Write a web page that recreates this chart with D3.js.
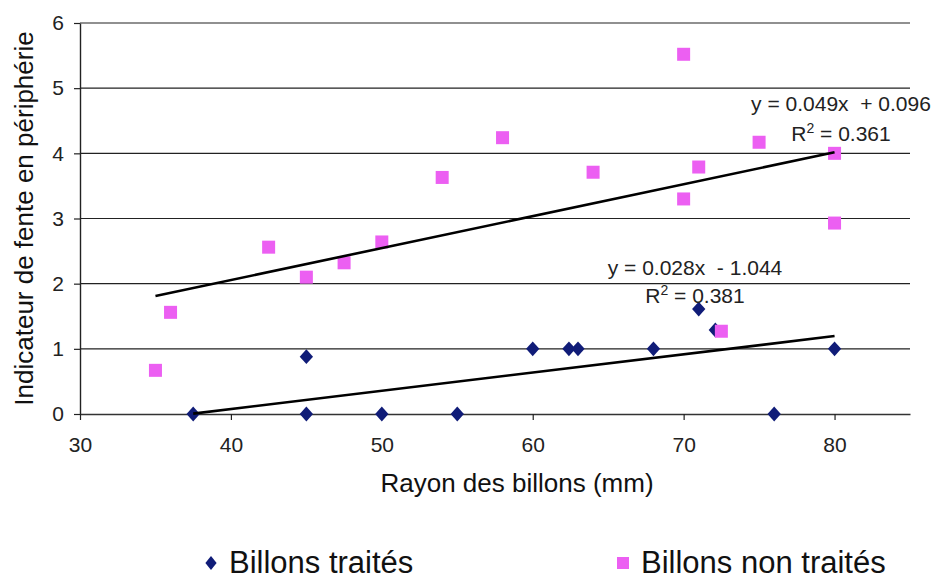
<!DOCTYPE html>
<html>
<head>
<meta charset="utf-8">
<script src="https://cdn.jsdelivr.net/npm/d3@7"></script>
<style>
  body { margin: 0; background: #fff; }
  svg { display: block; font-family: "Liberation Sans", Arial, sans-serif; }
  .pre { white-space: pre; }
</style>
</head>
<body>
<svg id="chart" width="933" height="579"></svg>
<script>
// Billons traités (treated logs)
const treatedX = [37.5, 45, 45, 50, 55, 60, 62.4, 63, 68, 71, 72.1, 76, 80];
const treatedY = [0, 0.88, 0, 0, 0, 1, 1, 1, 1, 1.61, 1.29, 0, 1];
// Billons non traités (untreated logs)
const untreatedX = [35, 36, 42.5, 45, 47.5, 50, 54, 58, 64, 70, 70, 71, 75, 80, 80, 72.5];
const untreatedY = [0.67, 1.56, 2.56, 2.1, 2.32, 2.64, 3.63, 4.24, 3.71, 5.52, 3.3, 3.79, 4.17, 4.0, 2.93, 1.27];
// Linear trend lines: [slope, intercept, xStart, xEnd, r2]
const treatedFit = [0.028, -1.044, 37.5, 80, 0.381];
const untreatedFit = [0.049, 0.096, 35, 80, 0.361];
const xTicks = [30, 40, 50, 60, 70, 80];
const yTicks = [0, 1, 2, 3, 4, 5, 6];
const seriesNames = ["Billons traités", "Billons non traités"];

const blue = "#101c78";
const pink = "#ec5ff2";
const font = "Liberation Sans, Arial, sans-serif";

const svg = d3.select("#chart");
const m = { left: 80, right: 23, top: 23, bottom: 165 };
const W = 933, H = 579;
const x = d3.scaleLinear().domain([30, 85]).range([m.left, W - m.right]);
const y = d3.scaleLinear().domain([0, 6]).range([H - m.bottom, m.top]);

// horizontal gridlines
svg.append("g").selectAll("line").data(yTicks.filter(d => d > 0)).join("line")
  .attr("x1", x(30)).attr("x2", x(85))
  .attr("y1", d => y(d)).attr("y2", d => y(d))
  .attr("stroke", "#222").attr("stroke-width", 1.2);

// y axis
const yAxis = svg.append("g").attr("transform", `translate(${x(30)},0)`)
  .call(d3.axisLeft(y).tickValues(yTicks).tickSize(6).tickSizeOuter(0).tickFormat(d3.format("d")));
yAxis.select(".domain").attr("stroke", "#222").attr("stroke-width", 1.4);
yAxis.selectAll(".tick line").attr("stroke", "#222").attr("stroke-width", 1.2);
yAxis.selectAll("text").attr("font-size", 21).attr("fill", "#222").attr("x", -16)
  .attr("font-family", font);

// x axis
const xAxis = svg.append("g").attr("transform", `translate(0,${y(0)})`)
  .call(d3.axisBottom(x).tickValues(xTicks).tickSize(6).tickSizeOuter(0).tickFormat(d3.format("d")));
xAxis.select(".domain").attr("stroke", "#333").attr("stroke-width", 1.6);
xAxis.selectAll(".tick line").attr("stroke", "#222").attr("stroke-width", 1.2);
xAxis.selectAll("text").attr("font-size", 21).attr("fill", "#222").attr("y", 38).attr("dy", 0)
  .attr("font-family", font);

// axis titles
svg.append("text")
  .attr("transform", `translate(33,${(y(0) + y(6)) / 2}) rotate(-90)`)
  .attr("text-anchor", "middle").attr("font-size", 26).attr("fill", "#111")
  .text("Indicateur de fente en périphérie");
svg.append("text")
  .attr("x", 517).attr("y", 492)
  .attr("text-anchor", "middle").attr("font-size", 26).attr("fill", "#111")
  .text("Rayon des billons (mm)");

// markers
const diamond = d3.symbol().type(d3.symbolDiamond).size(64);
svg.append("g").selectAll("path").data(treatedX.map((v, i) => [v, treatedY[i]])).join("path")
  .attr("d", diamond)
  .attr("transform", d => `translate(${x(d[0])},${y(d[1])}) scale(1.55,1)`)
  .attr("fill", blue);

const sq = 13;
svg.append("g").selectAll("rect").data(untreatedX.map((v, i) => [v, untreatedY[i]])).join("rect")
  .attr("x", d => x(d[0]) - sq / 2).attr("y", d => y(d[1]) - sq / 2)
  .attr("width", sq).attr("height", sq)
  .attr("fill", pink);

// trend lines
function trend(fit) {
  const [a, b, x0, x1] = fit;
  svg.append("line")
    .attr("x1", x(x0)).attr("y1", y(a * x0 + b))
    .attr("x2", x(x1)).attr("y2", y(a * x1 + b))
    .attr("stroke", "#000").attr("stroke-width", 2.6);
}
trend(untreatedFit);
trend(treatedFit);

// equation labels
function eqLabel(fit, cx, yEq, yR) {
  const [a, b, , , r2] = fit;
  const sign = b < 0 ? "- " : "+ ";
  svg.append("text").attr("class", "pre").attr("x", cx).attr("y", yEq).attr("text-anchor", "middle")
    .attr("font-size", 21).attr("fill", "#222")
    .text(`y = ${a.toFixed(3)}x  ${sign}${Math.abs(b).toFixed(3)}`);
  const t = svg.append("text").attr("x", cx).attr("y", yR).attr("text-anchor", "middle")
    .attr("font-size", 21).attr("fill", "#222");
  t.append("tspan").text("R");
  t.append("tspan").attr("dy", -8).attr("font-size", 14).text("2");
  t.append("tspan").attr("dy", 8).text(` = ${r2.toFixed(3)}`);
}
eqLabel(untreatedFit, 841, 111, 141);
eqLabel(treatedFit, 695, 275, 303);

// legend
const lg = svg.append("g");
lg.append("path").attr("d", d3.symbol().type(d3.symbolDiamond).size(56))
  .attr("transform", "translate(211,563) scale(1.4,1)").attr("fill", blue);
lg.append("text").attr("x", 229).attr("y", 573).attr("font-size", 31).attr("fill", "#111")
  .text(seriesNames[0]);
lg.append("rect").attr("x", 617).attr("y", 557).attr("width", 12).attr("height", 12).attr("fill", pink);
lg.append("text").attr("x", 641).attr("y", 573).attr("font-size", 31).attr("fill", "#111")
  .text(seriesNames[1]);
</script>
</body>
</html>
